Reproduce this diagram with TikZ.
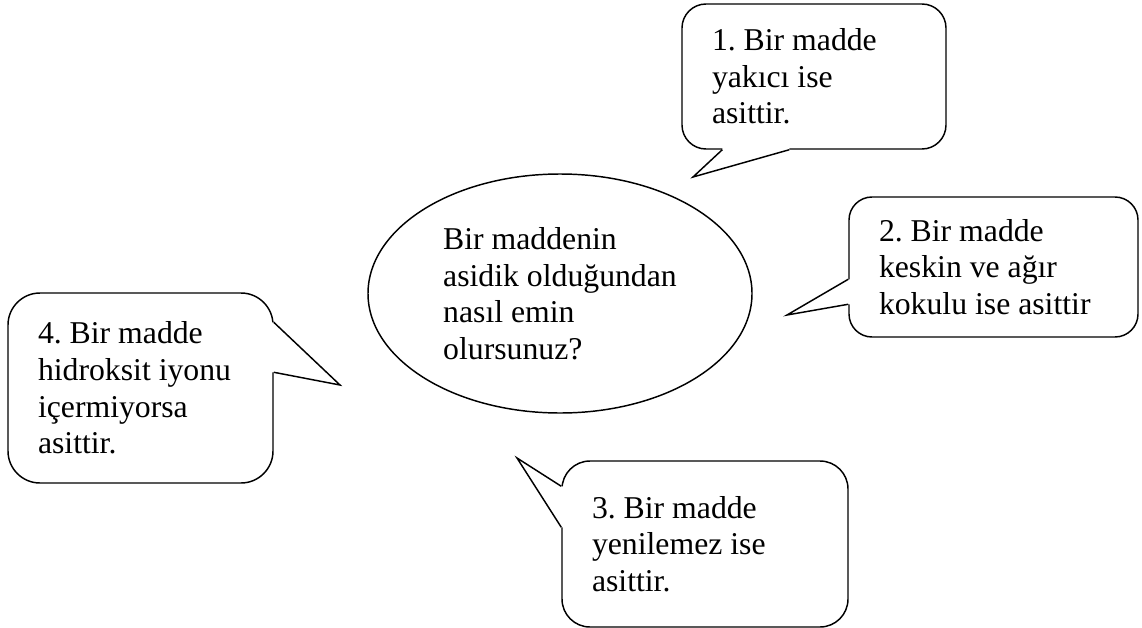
\documentclass[tikz,border=0pt]{standalone}
\usepackage{fontspec}
\setmainfont{Liberation Serif}
\frenchspacing
\usetikzlibrary{shapes.geometric,calc,positioning}
\tikzstyle{quest}=[draw, ellipse, minimum width=288pt, minimum height=179.25pt, inner sep=0pt, align=left, font=\fontsize{23.8pt}{27.4pt}\selectfont]
\tikzstyle{bubble}=[draw, rounded corners=18pt, align=left, inner xsep=22.5pt, inner ysep=0pt, font=\fontsize{23.8pt}{27.4pt}\selectfont, execute at begin node={\spaceskip=0pt\xspaceskip=0pt}]
\tikzstyle{wedge}=[fill=white]

\begin{document}
\begin{tikzpicture}[x=0.75pt,y=-0.75pt,line width=1.1pt]
\useasboundingbox (0,0) rectangle (1142,628);

\node[quest] at (560,293.5) (q) {Bir maddenin\\asidik olduğundan\\nasıl emin\\olursunuz?};

\node[bubble, minimum width=198pt, minimum height=108.75pt, text width=153pt] at (814,76.5) (b1) {1. Bir madde\\yakıcı ise\\asittir.};
\node[bubble, rounded corners=17.25pt, minimum width=216.75pt, minimum height=105pt, text width=171.75pt] at (993.5,267) (b2) {2. Bir madde\\keskin ve ağır\\kokulu ise asittir};
\node[bubble, rounded corners=21pt, minimum width=214.5pt, minimum height=124.5pt, text width=169.5pt] at (705,544) (b3) {3. Bir madde\\yenilemez ise\\asittir.};
\node[bubble, rounded corners=24pt, minimum width=198.75pt, minimum height=142.5pt, text width=153.75pt] at (140.5,388) (b4) {4. Bir madde\\hidroksit iyonu\\içermiyorsa\\asittir.};

% tails of the bubbles
\coordinate (tip1) at (693,177);
\fill[wedge] ($(b1.south west)+(41,-3)$) -- ($(b1.south west)+(41,0)$) -- (tip1) -- ($(b1.south west)+(108,0)$) -- ($(b1.south west)+(108,-3)$) -- cycle;
\draw ($(b1.south west)+(41,0)$) -- (tip1) -- ($(b1.south west)+(108,0)$);

\coordinate (tip2) at (787,315);
\fill[wedge] ($(b2.north west)+(3,83)$) -- ($(b2.north west)+(0,83)$) -- (tip2) -- ($(b2.north west)+(0,108)$) -- ($(b2.north west)+(3,108)$) -- cycle;
\draw ($(b2.north west)+(0,83)$) -- (tip2) -- ($(b2.north west)+(0,108)$);

\coordinate (tip3) at (517,458);
\fill[wedge] ($(b3.north west)+(3,26)$) -- ($(b3.north west)+(0,26)$) -- (tip3) -- ($(b3.north west)+(0,67)$) -- ($(b3.north west)+(3,67)$) -- cycle;
\draw ($(b3.north west)+(0,26)$) -- (tip3) -- ($(b3.north west)+(0,67)$);

\coordinate (tip4) at (340,385);
\fill[wedge] ($(b4.north east)+(-3,30)$) -- ($(b4.north east)+(0,30)$) -- (tip4) -- ($(b4.north east)+(0,80)$) -- ($(b4.north east)+(-3,80)$) -- cycle;
\draw ($(b4.north east)+(0,30)$) -- (tip4) -- ($(b4.north east)+(0,80)$);
\end{tikzpicture}
\end{document}
